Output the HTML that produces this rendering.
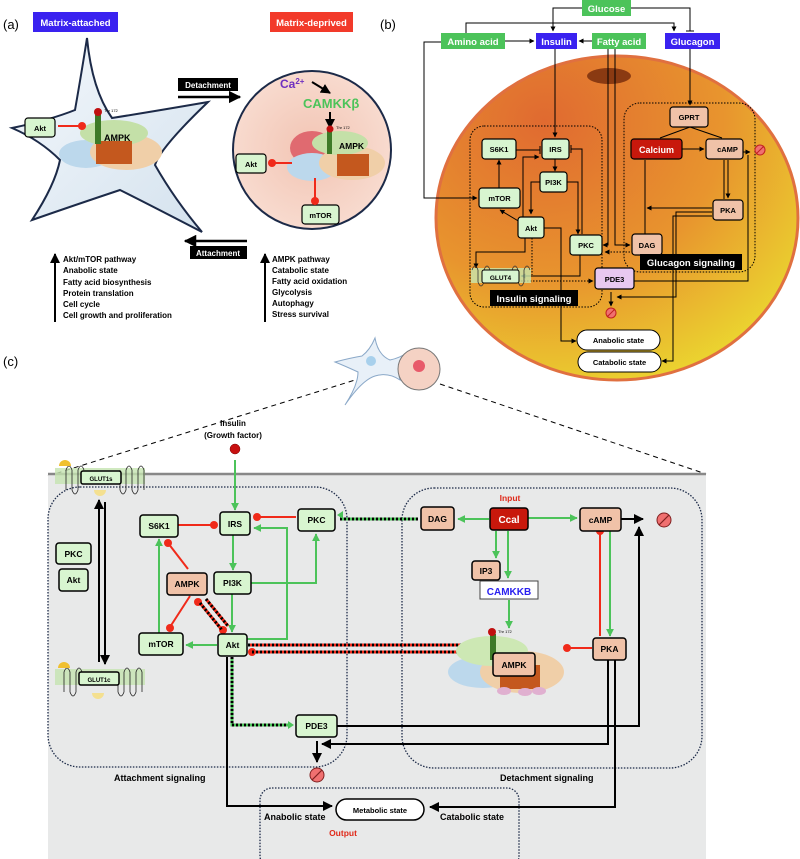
<!DOCTYPE html>
<html><head><meta charset="utf-8"><style>
body{margin:0;background:#fff}
svg{display:block;font-family:"Liberation Sans",sans-serif;font-weight:bold}
</style></head><body>
<svg width="800" height="859" viewBox="0 0 800 859" xmlns="http://www.w3.org/2000/svg">
<defs>
<marker id="ab" viewBox="0 0 10 10" refX="9" refY="5" markerWidth="5" markerHeight="5" orient="auto"><path d="M0,0L10,5L0,10z" fill="#000"/></marker>
<marker id="ag" viewBox="0 0 10 10" refX="9" refY="5" markerWidth="4" markerHeight="4" orient="auto"><path d="M0,0L10,5L0,10z" fill="#4cc35a"/></marker>
<marker id="as" viewBox="0 0 10 10" refX="9" refY="5" markerWidth="6" markerHeight="6" orient="auto"><path d="M0,0L10,5L0,10z" fill="#000"/></marker>
<radialGradient id="cell" cx="0.3" cy="0.2" r="1"><stop offset="0" stop-color="#e06a30"/><stop offset="0.5" stop-color="#e8952e"/><stop offset="1" stop-color="#ecec30"/></radialGradient>
<radialGradient id="pink" cx="0.5" cy="0.5" r="0.6"><stop offset="0" stop-color="#f2c4b3"/><stop offset="1" stop-color="#f9dfd4"/></radialGradient>
<linearGradient id="star" x1="0" y1="0" x2="1" y2="1"><stop offset="0" stop-color="#f4f8fc"/><stop offset="1" stop-color="#d4e2ee"/></linearGradient>
</defs>

<!-- ===== PANEL A ===== -->
<text x="3" y="29" font-size="13" font-weight="normal">(a)</text>
<rect x="33" y="12" width="85" height="20" fill="#3a22f0"/>
<text x="75.5" y="26" font-size="9.5" fill="#fff" text-anchor="middle">Matrix-attached</text>
<rect x="270" y="12" width="83" height="20" fill="#f23a2a"/>
<text x="311.5" y="26" font-size="9.5" fill="#fff" text-anchor="middle">Matrix-deprived</text>
<text x="380" y="29" font-size="13" font-weight="normal">(b)</text>

<path d="M87,38 Q92,90 112,118 Q150,112 208,102 Q160,148 155,165 Q175,200 202,232 Q150,205 120,190 Q75,205 32,220 Q55,185 60,160 Q40,140 12,128 Q50,120 75,110 Q82,70 87,38z" fill="url(#star)" stroke="#1c2a48" stroke-width="2"/>
<g>
<ellipse cx="86" cy="154" rx="27" ry="14" fill="#bcd8ec"/>
<ellipse cx="126" cy="152" rx="36" ry="18" fill="#f0cfa8"/>
<ellipse cx="114" cy="133" rx="34" ry="13" fill="#c4e0a8"/>
<rect x="96" y="141" width="36" height="23" fill="#c4581e"/>
<rect x="95" y="112" width="6" height="32" fill="#3e7a28"/>
<circle cx="98" cy="112" r="4" fill="#c01010"/>
<text x="104" y="112" font-size="4" font-weight="normal">Thr 172</text>
<text x="104" y="141" font-size="9">AMPK</text>
</g>
<rect x="25" y="118" width="30" height="19" rx="3" fill="#d8f5d0" stroke="#000" stroke-width="1.2"/>
<text x="40" y="131" font-size="7.5" text-anchor="middle">Akt</text>
<line x1="58" y1="126" x2="82" y2="126" stroke="#f02a1a" stroke-width="2"/><circle cx="82" cy="126" r="4" fill="#f02a1a"/>

<rect x="178" y="78" width="60" height="13" fill="#000"/>
<text x="208" y="88" font-size="8" fill="#fff" text-anchor="middle">Detachment</text>
<line x1="178" y1="97" x2="240" y2="97" stroke="#000" stroke-width="2.5" marker-end="url(#ab)"/>
<line x1="247" y1="241" x2="185" y2="241" stroke="#000" stroke-width="2.5" marker-end="url(#ab)"/>
<rect x="190" y="246" width="57" height="13" fill="#000"/>
<text x="218" y="256" font-size="8" fill="#fff" text-anchor="middle">Attachment</text>

<circle cx="312" cy="150" r="79" fill="url(#pink)" stroke="#1c2a48" stroke-width="2"/>
<text x="280" y="88" font-size="12" fill="#7030c0">Ca<tspan font-size="8" dy="-4">2+</tspan></text>
<line x1="312" y1="82" x2="330" y2="93" stroke="#000" stroke-width="2" marker-end="url(#ab)"/>
<text x="303" y="108" font-size="13" fill="#4cc35a">CAMKKβ</text>
<line x1="330" y1="112" x2="330" y2="128" stroke="#000" stroke-width="2" marker-end="url(#ab)"/>
<g>
<ellipse cx="312" cy="148" rx="22" ry="17" fill="#e06a70"/>
<ellipse cx="312" cy="167" rx="25" ry="14" fill="#bcd8ec"/>
<ellipse cx="352" cy="163" rx="33" ry="17" fill="#f0cfa8"/>
<ellipse cx="340" cy="143" rx="28" ry="12" fill="#c4e0a8"/>
<rect x="337" y="154" width="32" height="22" fill="#c4581e"/>
<rect x="327" y="130" width="5" height="24" fill="#3e7a28"/>
<circle cx="330" cy="129" r="3.5" fill="#c01010"/>
<text x="336" y="129" font-size="4" font-weight="normal">Thr 172</text>
<text x="339" y="149" font-size="8.5">AMPK</text>
</g>
<rect x="236" y="154" width="30" height="19" rx="3" fill="#d8f5d0" stroke="#000" stroke-width="1.2"/>
<text x="251" y="167" font-size="7.5" text-anchor="middle">Akt</text>
<line x1="272" y1="163" x2="292" y2="163" stroke="#f02a1a" stroke-width="2"/><circle cx="272" cy="163" r="4" fill="#f02a1a"/>
<rect x="302" y="205" width="37" height="19" rx="3" fill="#d8f5d0" stroke="#000" stroke-width="1.2"/>
<text x="320.5" y="218" font-size="7.5" text-anchor="middle">mTOR</text>
<line x1="315" y1="178" x2="315" y2="200" stroke="#f02a1a" stroke-width="2"/><circle cx="315" cy="201" r="4" fill="#f02a1a"/>

<line x1="55" y1="322" x2="55" y2="254" stroke="#000" stroke-width="2" marker-end="url(#ab)"/>
<g font-size="8">
<text x="63" y="262">Akt/mTOR pathway</text><text x="63" y="273">Anabolic state</text><text x="63" y="285">Fatty acid biosynthesis</text><text x="63" y="296">Protein translation</text><text x="63" y="307">Cell cycle</text><text x="63" y="318">Cell growth and proliferation</text>
</g>
<line x1="265" y1="322" x2="265" y2="254" stroke="#000" stroke-width="2" marker-end="url(#ab)"/>
<g font-size="8">
<text x="272" y="262">AMPK pathway</text><text x="272" y="273">Catabolic state</text><text x="272" y="284">Fatty acid oxidation</text><text x="272" y="295">Glycolysis</text><text x="272" y="306">Autophagy</text><text x="272" y="317">Stress survival</text>
</g>

<!-- ===== PANEL B ===== -->
<ellipse cx="617" cy="218" rx="181" ry="162" fill="url(#cell)" stroke="#e07040" stroke-width="3"/>
<ellipse cx="609" cy="76" rx="22" ry="8" fill="#8a3a12"/>
<g stroke="#000" stroke-width="1" fill="none">
<polyline points="582,8 553,8 553,31" marker-end="url(#ab)"/>
<polyline points="631,8 690,8 690,31"/><line x1="686" y1="31" x2="694" y2="31"/>
<polyline points="466,33 466,23 674,23 674,31" marker-end="url(#ab)"/>
<line x1="505" y1="41" x2="534" y2="41" marker-end="url(#ab)"/>
<line x1="592" y1="41" x2="579" y2="41" marker-end="url(#ab)"/>
<polyline points="441,42 424,42 424,198 477,198" marker-end="url(#ab)"/>
<line x1="555" y1="49" x2="555" y2="137" marker-end="url(#ab)"/>
<line x1="690" y1="49" x2="690" y2="105" marker-end="url(#ab)"/>
<polyline points="608,49 608,245 603,245" marker-end="url(#ab)"/>
<polyline points="615,49 615,245 630,245" marker-end="url(#ab)"/>
<polyline points="690,127 660,138"/><polyline points="690,127 722,138"/>
<line x1="682" y1="149" x2="704" y2="149" marker-end="url(#ab)"/>
<line x1="743" y1="152" x2="750" y2="152" marker-end="url(#ab)"/>
<line x1="724" y1="160" x2="724" y2="199"/><line x1="728" y1="160" x2="728" y2="198" marker-end="url(#ab)"/>
<line x1="645" y1="160" x2="645" y2="234"/>
<polyline points="712,208 647,208" marker-end="url(#ab)"/>
<polyline points="712,212 676,212 676,297 617,297" marker-end="url(#ab)"/>
<polyline points="712,216 673,216 673,361 662,361" marker-end="url(#ab)"/>
<polyline points="634,281 748,281 748,155"/>
<line x1="611" y1="292" x2="611" y2="306" marker-end="url(#ab)"/>
<line x1="499" y1="188" x2="499" y2="160" marker-end="url(#ab)"/>
<line x1="516" y1="150" x2="540" y2="150"/><line x1="540" y1="146" x2="540" y2="154"/>
<polyline points="523,218 523,157 539,157" marker-end="url(#ab)"/>
<line x1="555" y1="159" x2="555" y2="171" marker-end="url(#ab)"/>
<polyline points="540,182 531,182 531,214" marker-end="url(#ab)"/>
<polyline points="567,182 578,182 578,234" marker-end="url(#ab)"/>
<polyline points="582,234 582,149 571,149"/><line x1="571" y1="145" x2="571" y2="153"/>
<line x1="520" y1="222" x2="500" y2="210" marker-end="url(#ab)"/>
<polyline points="525,238 525,252 476,252 476,268" marker-end="url(#ab)"/>
<polyline points="544,228 561,228 561,341 576,341" marker-end="url(#ab)"/>
<polyline points="580,255 580,276 521,276" marker-end="url(#ab)"/>
<line x1="532" y1="238" x2="532" y2="275" stroke-dasharray="1.5,1.5"/>
<line x1="521" y1="281" x2="593" y2="281" stroke-dasharray="1.5,1.5" marker-end="url(#ab)"/>
<line x1="630" y1="252" x2="605" y2="252" stroke-dasharray="1.5,1.5" marker-end="url(#ab)"/>
</g>
<rect x="470" y="126" width="132" height="181" rx="14" fill="none" stroke="#000" stroke-dasharray="1.5,1.5"/>
<rect x="624" y="103" width="131" height="169" rx="16" fill="none" stroke="#000" stroke-dasharray="1.5,1.5"/>
<rect x="582" y="0" width="49" height="16" fill="#4cc35a"/><text x="606.5" y="12" font-size="9.5" fill="#fff" text-anchor="middle">Glucose</text>
<rect x="441" y="33" width="64" height="16" fill="#4cc35a"/><text x="473" y="45" font-size="9.5" fill="#fff" text-anchor="middle">Amino acid</text>
<rect x="536" y="33" width="41" height="16" fill="#3a22f0"/><text x="556.5" y="45" font-size="9.5" fill="#fff" text-anchor="middle">Insulin</text>
<rect x="592" y="33" width="54" height="16" fill="#4cc35a"/><text x="619" y="45" font-size="9.5" fill="#fff" text-anchor="middle">Fatty acid</text>
<rect x="665" y="33" width="55" height="16" fill="#3a22f0"/><text x="692.5" y="45" font-size="9.5" fill="#fff" text-anchor="middle">Glucagon</text>
<g stroke="#000" stroke-width="1.2" font-size="7.5">
<rect x="482" y="139" width="34" height="20" rx="3" fill="#d8f5d0"/>
<rect x="542" y="139" width="27" height="20" rx="3" fill="#d8f5d0"/>
<rect x="540" y="172" width="27" height="20" rx="3" fill="#d8f5d0"/>
<rect x="479" y="188" width="41" height="20" rx="3" fill="#d8f5d0"/>
<rect x="518" y="217" width="26" height="21" rx="3" fill="#d8f5d0"/>
<rect x="570" y="235" width="32" height="20" rx="3" fill="#d8f5d0"/>
<rect x="595" y="268" width="39" height="21" rx="3" fill="#e8c8f0"/>
<rect x="632" y="234" width="30" height="21" rx="3" fill="#f0c2a8"/>
<rect x="670" y="107" width="38" height="20" rx="3" fill="#f0c2a8"/>
<rect x="631" y="139" width="51" height="20" rx="3" fill="#c8180c"/>
<rect x="706" y="139" width="37" height="20" rx="3" fill="#f0c2a8"/>
<rect x="713" y="200" width="30" height="20" rx="3" fill="#f0c2a8"/>
</g>
<rect x="471" y="268" width="60" height="15" fill="#c8e8b0" opacity="0.8"/>
<path d="M472,270 q3,-8 6,0 v12 q3,8 6,0 v-12 q3,-8 6,0 M512,270 q3,-8 6,0 v12 q3,8 6,0 v-12 q3,-8 6,0" fill="none" stroke="#333" stroke-width="0.8"/>
<rect x="482" y="270" width="37" height="13" rx="2" fill="#d8f5d0" stroke="#000"/>
<g font-size="7.5" text-anchor="middle">
<text x="499" y="152">S6K1</text><text x="555.5" y="152">IRS</text><text x="553.5" y="185">PI3K</text><text x="499.5" y="201">mTOR</text><text x="531" y="231">Akt</text><text x="586" y="248">PKC</text><text x="614.5" y="282">PDE3</text><text x="647" y="248">DAG</text><text x="689" y="120">GPRT</text><text x="727.5" y="152">cAMP</text><text x="728" y="213">PKA</text><text x="500.5" y="280" font-size="6.5">GLUT4</text>
<text x="656.5" y="153" font-size="9" fill="#fff">Calcium</text>
</g>
<rect x="640" y="254" width="102" height="16" fill="#000"/><text x="691" y="266" font-size="9.5" fill="#fff" text-anchor="middle">Glucagon signaling</text>
<rect x="490" y="290" width="88" height="16" fill="#000"/><text x="534" y="302" font-size="9.5" fill="#fff" text-anchor="middle">Insulin signaling</text>
<rect x="577" y="330" width="83" height="20" rx="10" fill="#fff" stroke="#000"/><text x="618.5" y="343" font-size="7.5" text-anchor="middle">Anabolic state</text>
<rect x="578" y="352" width="83" height="20" rx="10" fill="#fff" stroke="#000"/><text x="619.5" y="365" font-size="7.5" text-anchor="middle">Catabolic state</text>
<g fill="#f07070" stroke="#c02020"><circle cx="611" cy="313" r="5"/><circle cx="760" cy="150" r="5"/></g>
<g stroke="#c02020"><line x1="607" y1="317" x2="615" y2="309"/><line x1="756" y1="154" x2="764" y2="146"/></g>

<!-- ===== PANEL C ===== -->
<text x="3" y="366" font-size="13" font-weight="normal">(c)</text>
<line x1="48" y1="476" x2="355" y2="380" stroke="#000" stroke-dasharray="5,4"/>
<line x1="440" y1="384" x2="706" y2="474" stroke="#000" stroke-dasharray="5,4"/>
<path d="M375,338 Q378,355 390,360 Q400,358 408,352 Q396,368 400,380 Q388,372 375,376 Q362,380 345,405 Q358,385 358,372 Q345,366 335,362 Q350,358 362,356 Q370,350 375,338z" fill="#e8f0f8" stroke="#8aa8c8"/>
<circle cx="371" cy="361" r="5" fill="#a8d0ec"/>
<circle cx="419" cy="369" r="21" fill="#f5d2c4" stroke="#777"/>
<circle cx="419" cy="366" r="6" fill="#e85a6a"/>

<rect x="48" y="474" width="658" height="385" fill="#e8e9e9"/>
<line x1="48" y1="474" x2="706" y2="474" stroke="#888" stroke-width="2.5"/>
<text x="233" y="426" font-size="8" text-anchor="middle">Insulin</text>
<text x="233" y="438" font-size="8" text-anchor="middle">(Growth factor)</text>
<circle cx="235" cy="449" r="5" fill="#c81010" stroke="#700" stroke-width="0.5"/>

<rect x="48" y="487" width="299" height="280" rx="32" fill="none" stroke="#1c2a48" stroke-width="1.3" stroke-dasharray="1.5,1.5"/>
<rect x="402" y="488" width="300" height="280" rx="32" fill="none" stroke="#1c2a48" stroke-width="1.3" stroke-dasharray="1.5,1.5"/>
<rect x="260" y="788" width="259" height="80" rx="12" fill="none" stroke="#1c2a48" stroke-width="1.3" stroke-dasharray="1.5,1.5"/>

<!-- membranes -->
<rect x="55" y="468" width="90" height="16" fill="#c4e4b0" opacity="0.8"/>
<rect x="55" y="669" width="90" height="16" fill="#c4e4b0" opacity="0.8"/>
<path d="M66,490 v-20 q3,-8 6,0 v20 q3,8 6,0 v-20 q3,-8 6,0 M120,470 v20 q3,8 6,0 v-20 q3,-8 6,0 v20 q3,8 6,0 v-20 q3,-8 6,0 v20" fill="none" stroke="#222" stroke-width="0.8"/>
<path d="M64,692 v-20 q3,-8 6,0 v20 q3,8 6,0 v-20 q3,-8 6,0 M118,672 v20 q3,8 6,0 v-20 q3,-8 6,0 v20 q3,8 6,0 v-20 q3,-8 6,0 v20" fill="none" stroke="#222" stroke-width="0.8"/>
<path d="M59,466 a6,6 0 0 1 12,0z" fill="#f0c030"/><path d="M94,490 a6,6 0 0 0 12,0z" fill="#f4e090"/>
<path d="M58,668 a6,6 0 0 1 12,0z" fill="#f0c030"/><path d="M92,693 a6,6 0 0 0 12,0z" fill="#f4e090"/>
<line x1="99" y1="662" x2="99" y2="500" stroke="#000" stroke-width="2" marker-end="url(#ab)"/>
<line x1="105" y1="502" x2="105" y2="664" stroke="#000" stroke-width="2" marker-end="url(#ab)"/>

<!-- green arrows -->
<g stroke="#4cc35a" stroke-width="2" fill="none">
<line x1="235" y1="460" x2="235" y2="510" marker-end="url(#ag)"/>
<line x1="233" y1="535" x2="233" y2="570" marker-end="url(#ag)"/>
<line x1="232" y1="594" x2="232" y2="632" marker-end="url(#ag)"/>
<polyline points="251,583 316,583 316,534" marker-end="url(#ag)"/>
<polyline points="247,639 287,639 287,528 254,528" marker-end="url(#ag)"/>
<line x1="217" y1="645" x2="186" y2="645" marker-end="url(#ag)"/>
<line x1="159" y1="633" x2="159" y2="539" marker-end="url(#ag)"/>
<line x1="489" y1="519" x2="458" y2="519" marker-end="url(#ag)"/>
<line x1="528" y1="518" x2="577" y2="518" marker-end="url(#ag)"/>
<line x1="496" y1="531" x2="496" y2="558" marker-end="url(#ag)"/>
<line x1="508" y1="531" x2="508" y2="578" marker-end="url(#ag)"/>
<line x1="509" y1="600" x2="509" y2="628" marker-end="url(#ag)"/>
<line x1="610" y1="531" x2="610" y2="636" marker-end="url(#ag)"/>
</g>
<!-- red inhibitions -->
<g stroke="#f02a1a" stroke-width="2" fill="none">
<line x1="178" y1="525" x2="214" y2="525"/>
<line x1="296" y1="517" x2="257" y2="517"/>
<line x1="188" y1="569" x2="168" y2="543"/>
<line x1="190" y1="596" x2="170" y2="627"/>
<line x1="600" y1="636" x2="600" y2="531"/>
<line x1="592" y1="648" x2="567" y2="648"/>
</g>
<g fill="#f02a1a">
<circle cx="214" cy="525" r="4"/><circle cx="257" cy="517" r="4"/><circle cx="168" cy="543" r="4"/><circle cx="170" cy="628" r="4"/><circle cx="600" cy="531" r="4"/><circle cx="567" cy="648" r="4"/>
<circle cx="198" cy="602" r="4"/><circle cx="223" cy="630" r="4"/><circle cx="252" cy="652" r="4"/><circle cx="468" cy="645" r="4"/>
</g>
<!-- dashed red/black pairs -->
<g stroke-width="3" fill="none">
<line x1="200" y1="603" x2="222" y2="630" stroke="#f02a1a"/>
<line x1="200" y1="603" x2="222" y2="630" stroke="#000" stroke-dasharray="2,2"/>
<line x1="206" y1="599" x2="228" y2="626" stroke="#f02a1a"/>
<line x1="206" y1="599" x2="228" y2="626" stroke="#000" stroke-dasharray="2,2"/>
<line x1="248" y1="645" x2="468" y2="645" stroke="#f02a1a"/>
<line x1="248" y1="645" x2="468" y2="645" stroke="#000" stroke-dasharray="2,2"/>
<line x1="252" y1="652" x2="470" y2="652" stroke="#f02a1a"/>
<line x1="252" y1="652" x2="470" y2="652" stroke="#000" stroke-dasharray="2,2"/>
<line x1="418" y1="519" x2="340" y2="519" stroke="#4cc35a"/>
<line x1="418" y1="519" x2="340" y2="519" stroke="#000" stroke-dasharray="2,2"/>
<polyline points="232,657 232,725 290,725" stroke="#4cc35a"/>
<polyline points="232,657 232,725 290,725" stroke="#000" stroke-dasharray="2,2"/>
</g>
<path d="M337,515 l6,-4 v8z" fill="#4cc35a"/>
<path d="M294,725 l-6,-4 v8z" fill="#4cc35a"/>
<!-- black arrows -->
<g stroke="#000" stroke-width="2" fill="none">
<line x1="621" y1="519" x2="643" y2="519" marker-end="url(#ab)"/>
<polyline points="337,726 639,726 639,527" marker-end="url(#ab)"/>
<polyline points="608,660 608,744 322,744" marker-end="url(#ab)"/>
<line x1="317" y1="741" x2="317" y2="762" marker-end="url(#ab)"/>
<polyline points="227,657 227,806 332,806" marker-end="url(#ab)"/>
<polyline points="615,660 615,807 430,807" marker-end="url(#ab)"/>
</g>
<circle cx="317" cy="775" r="7" fill="#f07070" stroke="#802020"/><line x1="312" y1="780" x2="322" y2="770" stroke="#802020" stroke-width="1.2"/>
<circle cx="664" cy="520" r="7" fill="#f07070" stroke="#802020"/><line x1="659" y1="525" x2="669" y2="515" stroke="#802020" stroke-width="1.2"/>

<!-- AMPK complex -->
<ellipse cx="483" cy="672" rx="35" ry="16" fill="#bcd8ec"/>
<ellipse cx="522" cy="672" rx="42" ry="21" fill="#f0cfa8"/>
<ellipse cx="492" cy="651" rx="36" ry="15" fill="#cde8b4"/>
<rect x="500" y="665" width="40" height="24" fill="#c4581e"/>
<g fill="#e0b0d0"><ellipse cx="504" cy="691" rx="7" ry="4"/><ellipse cx="525" cy="692" rx="7" ry="4"/><ellipse cx="539" cy="691" rx="7" ry="4"/></g>
<rect x="490" y="634" width="6" height="26" fill="#3e7a28"/>
<circle cx="492" cy="632" r="4" fill="#c01010"/>
<text x="498" y="633" font-size="4" font-weight="normal">Thr 172</text>

<!-- boxes panel c -->
<g stroke="#000" stroke-width="1.5">
<rect x="81" y="471" width="40" height="13" rx="2" fill="#d8f5d0"/>
<rect x="79" y="672" width="40" height="13" rx="2" fill="#d8f5d0"/>
<rect x="56" y="543" width="35" height="21" rx="3" fill="#d8f5d0"/>
<rect x="59" y="569" width="29" height="22" rx="3" fill="#d8f5d0"/>
<rect x="140" y="515" width="38" height="22" rx="3" fill="#d8f5d0"/>
<rect x="220" y="512" width="30" height="23" rx="3" fill="#d8f5d0"/>
<rect x="298" y="509" width="37" height="22" rx="3" fill="#d8f5d0"/>
<rect x="167" y="573" width="40" height="22" rx="3" fill="#f0c2a8"/>
<rect x="214" y="572" width="37" height="22" rx="3" fill="#d8f5d0"/>
<rect x="139" y="633" width="44" height="22" rx="3" fill="#d8f5d0"/>
<rect x="218" y="634" width="29" height="22" rx="3" fill="#d8f5d0"/>
<rect x="296" y="715" width="41" height="22" rx="3" fill="#d8f5d0"/>
<rect x="421" y="507" width="33" height="23" rx="3" fill="#f0c2a8"/>
<rect x="490" y="508" width="38" height="22" rx="3" fill="#c8180c"/>
<rect x="580" y="508" width="41" height="23" rx="3" fill="#f0c2a8"/>
<rect x="472" y="561" width="28" height="19" rx="3" fill="#f0c2a8"/>
<rect x="593" y="638" width="33" height="22" rx="3" fill="#f0c2a8"/>
<rect x="493" y="653" width="42" height="23" rx="3" fill="#f0c2a8"/>
</g>
<rect x="480" y="581" width="58" height="18" fill="#fff" stroke="#444"/>
<rect x="336" y="799" width="88" height="21" rx="10.5" fill="#fff" stroke="#000" stroke-width="1.5"/>
<g font-size="8.5" text-anchor="middle">
<text x="101" y="481" font-size="6">GLUT1s</text><text x="99" y="682" font-size="6">GLUT1c</text>
<text x="73.5" y="557">PKC</text><text x="73.5" y="583">Akt</text>
<text x="159" y="529">S6K1</text><text x="235" y="527">IRS</text><text x="316.5" y="523">PKC</text>
<text x="187" y="587">AMPK</text><text x="232.5" y="586">PI3K</text><text x="161" y="647">mTOR</text><text x="232.5" y="648">Akt</text><text x="316.5" y="729">PDE3</text>
<text x="437.5" y="522">DAG</text><text x="509" y="523" fill="#fff" font-size="10">Ccal</text><text x="600.5" y="523">cAMP</text>
<text x="486" y="574">IP3</text><text x="509" y="595" fill="#2a20f0" font-size="10">CAMKKB</text>
<text x="609.5" y="652">PKA</text><text x="514" y="668">AMPK</text>
<text x="380" y="813" font-size="7.5">Metabolic state</text>
<text x="510" y="501" fill="#e02a1a">Input</text>
<text x="343" y="836" fill="#e02a1a">Output</text>
</g>
<g font-size="9">
<text x="114" y="781">Attachment signaling</text>
<text x="500" y="781">Detachment signaling</text>
<text x="264" y="820">Anabolic state</text>
<text x="440" y="820">Catabolic state</text>
</g>
</svg>
</body></html>
